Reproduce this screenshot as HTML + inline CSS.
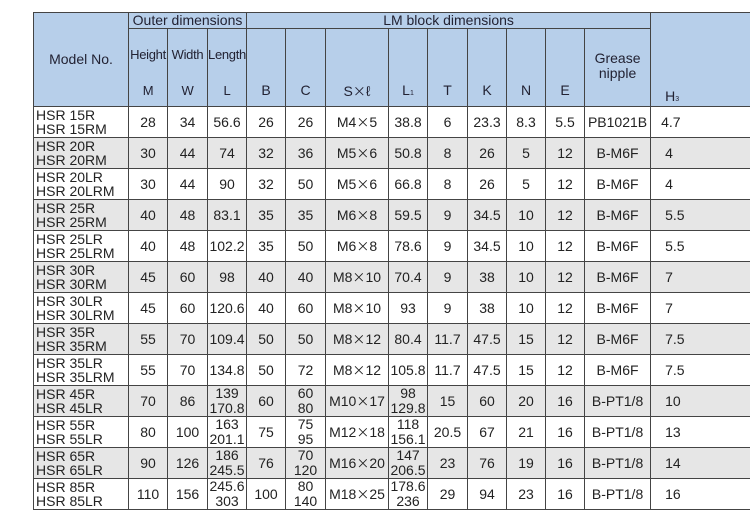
<!DOCTYPE html>
<html><head><meta charset="utf-8"><style>
html,body{margin:0;padding:0;background:#fff;width:750px;height:517px;overflow:hidden}
table{position:absolute;left:33px;top:12px;border-collapse:collapse;table-layout:fixed;width:718px;font-family:"Liberation Sans",Arial,sans-serif;font-size:14px;color:#222}
td{border:1px solid #444;text-align:center;padding:0;line-height:15px;overflow:hidden;white-space:nowrap}
thead td{background:#b7cfea;color:#223}
tr.d td{height:30px}
tr.d td.m{line-height:14px}
tr.g td{background:#e6e6e6}
td.m{text-align:left;padding-left:2px}
td.h{text-align:left;padding-left:14px}
sub{font-size:7px;vertical-align:baseline}
.x{font-family:"Noto Sans CJK SC",sans-serif;font-size:13px}
.hd{position:relative;height:77px}
.hd .t{position:absolute;left:0;right:0;top:18px}
.hd .b{position:absolute;left:0;right:0;top:54px}
thead td.sm{font-size:13px;letter-spacing:-0.3px}
</style></head><body>
<table>
<colgroup><col style="width:95px"><col style="width:39px"><col style="width:40px"><col style="width:39px"><col style="width:39px"><col style="width:40px"><col style="width:63px"><col style="width:39px"><col style="width:40px"><col style="width:39px"><col style="width:39px"><col style="width:39px"><col style="width:66px"><col style="width:101px"></colgroup>
<thead>
<tr><td rowspan="2">Model No.</td><td colspan="3" style="height:15px">Outer dimensions</td><td colspan="9">LM block dimensions</td><td rowspan="2" class="h" style="padding-left:14px;vertical-align:bottom"><div style="position:relative;height:93px"><div style="position:absolute;left:0;top:76px">H<sub>3</sub></div></div></td></tr>
<tr>
<td class="sm"><div class="hd"><div class="t">Height</div><div class="b">M</div></div></td>
<td class="sm"><div class="hd"><div class="t">Width</div><div class="b">W</div></div></td>
<td class="sm"><div class="hd"><div class="t">Length</div><div class="b">L</div></div></td>
<td><div class="hd"><div class="b">B</div></div></td>
<td><div class="hd"><div class="b">C</div></div></td>
<td><div class="hd"><div class="b">S<span class="x">×</span>ℓ</div></div></td>
<td><div class="hd"><div class="b">L<sub>1</sub></div></div></td>
<td><div class="hd"><div class="b">T</div></div></td>
<td><div class="hd"><div class="b">K</div></div></td>
<td><div class="hd"><div class="b">N</div></div></td>
<td><div class="hd"><div class="b">E</div></div></td>
<td><div class="hd"><div class="t" style="top:22px">Grease<br>nipple</div></div></td>
</tr>
</thead>
<tbody>
<tr class="d"><td class="m">HSR 15R<br>HSR 15RM</td><td>28</td><td>34</td><td>56.6</td><td>26</td><td>26</td><td>M4<span class="x">×</span>5</td><td>38.8</td><td>6</td><td>23.3</td><td>8.3</td><td>5.5</td><td>PB1021B</td><td class="h" style="padding-left:10px">4.7</td></tr>
<tr class="d g"><td class="m">HSR 20R<br>HSR 20RM</td><td>30</td><td>44</td><td>74</td><td>32</td><td>36</td><td>M5<span class="x">×</span>6</td><td>50.8</td><td>8</td><td>26</td><td>5</td><td>12</td><td>B-M6F</td><td class="h">4</td></tr>
<tr class="d"><td class="m">HSR 20LR<br>HSR 20LRM</td><td>30</td><td>44</td><td>90</td><td>32</td><td>50</td><td>M5<span class="x">×</span>6</td><td>66.8</td><td>8</td><td>26</td><td>5</td><td>12</td><td>B-M6F</td><td class="h">4</td></tr>
<tr class="d g"><td class="m">HSR 25R<br>HSR 25RM</td><td>40</td><td>48</td><td>83.1</td><td>35</td><td>35</td><td>M6<span class="x">×</span>8</td><td>59.5</td><td>9</td><td>34.5</td><td>10</td><td>12</td><td>B-M6F</td><td class="h">5.5</td></tr>
<tr class="d"><td class="m">HSR 25LR<br>HSR 25LRM</td><td>40</td><td>48</td><td>102.2</td><td>35</td><td>50</td><td>M6<span class="x">×</span>8</td><td>78.6</td><td>9</td><td>34.5</td><td>10</td><td>12</td><td>B-M6F</td><td class="h">5.5</td></tr>
<tr class="d g"><td class="m">HSR 30R<br>HSR 30RM</td><td>45</td><td>60</td><td>98</td><td>40</td><td>40</td><td>M8<span class="x">×</span>10</td><td>70.4</td><td>9</td><td>38</td><td>10</td><td>12</td><td>B-M6F</td><td class="h">7</td></tr>
<tr class="d"><td class="m">HSR 30LR<br>HSR 30LRM</td><td>45</td><td>60</td><td>120.6</td><td>40</td><td>60</td><td>M8<span class="x">×</span>10</td><td>93</td><td>9</td><td>38</td><td>10</td><td>12</td><td>B-M6F</td><td class="h">7</td></tr>
<tr class="d g"><td class="m">HSR 35R<br>HSR 35RM</td><td>55</td><td>70</td><td>109.4</td><td>50</td><td>50</td><td>M8<span class="x">×</span>12</td><td>80.4</td><td>11.7</td><td>47.5</td><td>15</td><td>12</td><td>B-M6F</td><td class="h">7.5</td></tr>
<tr class="d"><td class="m">HSR 35LR<br>HSR 35LRM</td><td>55</td><td>70</td><td>134.8</td><td>50</td><td>72</td><td>M8<span class="x">×</span>12</td><td>105.8</td><td>11.7</td><td>47.5</td><td>15</td><td>12</td><td>B-M6F</td><td class="h">7.5</td></tr>
<tr class="d g"><td class="m">HSR 45R<br>HSR 45LR</td><td>70</td><td>86</td><td>139<br>170.8</td><td>60</td><td>60<br>80</td><td>M10<span class="x">×</span>17</td><td>98<br>129.8</td><td>15</td><td>60</td><td>20</td><td>16</td><td>B-PT1/8</td><td class="h">10</td></tr>
<tr class="d"><td class="m">HSR 55R<br>HSR 55LR</td><td>80</td><td>100</td><td>163<br>201.1</td><td>75</td><td>75<br>95</td><td>M12<span class="x">×</span>18</td><td>118<br>156.1</td><td>20.5</td><td>67</td><td>21</td><td>16</td><td>B-PT1/8</td><td class="h">13</td></tr>
<tr class="d g"><td class="m">HSR 65R<br>HSR 65LR</td><td>90</td><td>126</td><td>186<br>245.5</td><td>76</td><td>70<br>120</td><td>M16<span class="x">×</span>20</td><td>147<br>206.5</td><td>23</td><td>76</td><td>19</td><td>16</td><td>B-PT1/8</td><td class="h">14</td></tr>
<tr class="d"><td class="m">HSR 85R<br>HSR 85LR</td><td>110</td><td>156</td><td>245.6<br>303</td><td>100</td><td>80<br>140</td><td>M18<span class="x">×</span>25</td><td>178.6<br>236</td><td>29</td><td>94</td><td>23</td><td>16</td><td>B-PT1/8</td><td class="h">16</td></tr>
</tbody>
</table>
</body></html>
